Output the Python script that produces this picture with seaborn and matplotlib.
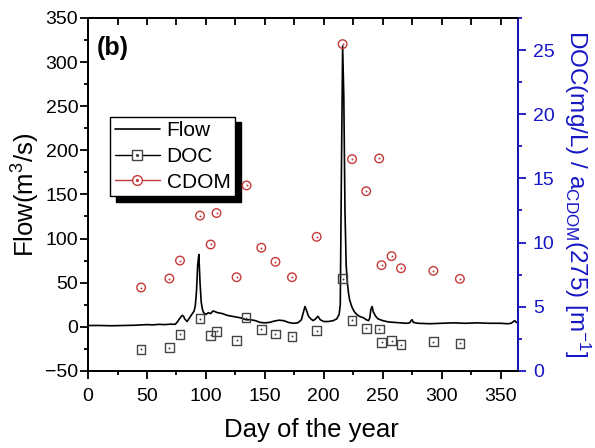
import matplotlib
matplotlib.use("Agg")
import matplotlib.pyplot as plt
from matplotlib.lines import Line2D
from matplotlib.legend_handler import HandlerTuple
from matplotlib.ticker import MultipleLocator
import seaborn as sns
import pandas as pd

# Daily discharge (m3/s)
flow_day = [1, 10, 20, 30, 40, 50, 55, 60, 65, 70, 74, 76, 78, 80, 81, 82, 84, 86, 88, 90,
            91, 92, 93, 94, 95, 96, 97, 98, 100, 102, 104, 106, 108, 110, 114, 118, 122, 126,
            130, 134, 138, 142, 146, 150, 154, 158, 162, 166, 170, 174, 178, 181, 183, 184,
            185, 187, 189, 191, 193, 195, 197, 200, 204, 208, 211, 213, 214, 215, 216, 217,
            218, 219, 220, 221, 222, 224, 226, 228, 230, 232, 234, 236, 238, 239, 240, 241,
            242, 244, 246, 250, 255, 260, 265, 270, 273, 274, 275, 276, 280, 290, 300, 310,
            320, 330, 340, 350, 356, 359, 361, 362, 363, 365]
flow_val = [1.5, 1.5, 1.2, 1.5, 1.8, 2.5, 2.2, 2.8, 2.5, 3.0, 2.8, 6, 10, 13, 12, 9, 6, 10, 14, 18,
            24, 40, 70, 82, 50, 28, 20, 16, 14, 16, 15, 18, 17, 16, 15, 13, 12, 11,
            10, 8, 8, 7, 5, 4.5, 5, 6.5, 7.5, 7, 5, 4, 4.5, 8, 18, 23,
            20, 12, 9, 7, 9, 12, 8, 6, 6, 7, 9, 14, 25, 180, 318, 260,
            130, 70, 50, 38, 30, 22, 17, 14, 12, 11, 10, 8, 7, 10, 20, 23,
            17, 12, 9, 7, 5.5, 5, 4.5, 4, 4.5, 7, 8, 5, 4, 3.5, 4, 4.5,
            4, 4.5, 4, 4, 3.5, 4, 6, 7, 5.5, 4]

# Sampling days with DOC (mg/L) and a_CDOM(275) (m-1)
sample_day = [45, 69, 78, 95, 104, 109, 126, 134, 147, 159, 173, 194, 216, 224, 236, 247,
              249, 257.5, 265.5, 293, 315.5]
doc_val = [1.7, 1.82, 2.86, 4.08, 2.78, 3.09, 2.39, 4.16, 3.25, 2.88, 2.7, 3.12, 7.2, 3.93,
           3.33, 3.27, 2.24, 2.37, 2.03, 2.29, 2.14]
cdom_day = [45, 69, 78, 95, 104, 109, 126, 134.5, 147, 159, 173, 194, 216, 224, 236, 247,
            249, 257.5, 265.5, 293, 315.5]
cdom_val = [6.5, 7.2, 8.6, 12.1, 9.85, 12.3, 7.3, 14.45, 9.6, 8.5, 7.3, 10.45, 25.46, 16.5,
            14.0, 16.55, 8.24, 8.94, 8.0, 7.8, 7.17]

flow_df = pd.DataFrame({"day": flow_day, "flow": flow_val})
doc_df = pd.DataFrame({"day": sample_day, "doc": doc_val})
cdom_df = pd.DataFrame({"day": cdom_day, "cdom": cdom_val})

sns.set_style("ticks")
plt.rcParams["font.family"] = ["Liberation Sans", "DejaVu Sans"]
plt.rcParams["mathtext.fontset"] = "custom"
plt.rcParams["mathtext.rm"] = "Liberation Sans"
plt.rcParams["mathtext.it"] = "Liberation Sans"
for key in ("text.color", "axes.labelcolor", "xtick.color", "ytick.color",
            "axes.edgecolor"):
    plt.rcParams[key] = "black"

BLUE = "#1616c4"
RED = "#c43a3a"
GREY = "#444444"

fig = plt.figure(figsize=(5.95, 4.48), dpi=100)
ax = fig.add_axes([0.148, 0.172, 0.723, 0.788])
ax2 = ax.twinx()

sns.lineplot(data=flow_df, x="day", y="flow", ax=ax, color="black", lw=1.2)

sns.scatterplot(data=doc_df, x="day", y="doc", ax=ax2, marker="s", s=40,
                facecolor="none", edgecolor=GREY, linewidth=1.0)
sns.scatterplot(data=doc_df, x="day", y="doc", ax=ax2, marker="o", s=2,
                color=GREY, linewidth=0)
sns.scatterplot(data=cdom_df, x="day", y="cdom", ax=ax2, marker="o", s=38,
                facecolor="none", edgecolor=RED, linewidth=1.0)
sns.scatterplot(data=cdom_df, x="day", y="cdom", ax=ax2, marker="o", s=2,
                color=RED, linewidth=0)

ax.set_xlim(0, 365)
ax.set_ylim(-50, 350)
ax2.set_ylim(0, 27.5)

ax.xaxis.set_major_locator(MultipleLocator(50))
ax.xaxis.set_minor_locator(MultipleLocator(25))
ax.yaxis.set_major_locator(MultipleLocator(50))
ax.yaxis.set_minor_locator(MultipleLocator(25))
ax2.yaxis.set_major_locator(MultipleLocator(5))
ax2.yaxis.set_minor_locator(MultipleLocator(2.5))

for a in (ax, ax2):
    for s in a.spines.values():
        s.set_linewidth(1.3)
        s.set_color("black")
ax2.spines["right"].set_color(BLUE)

ax.tick_params(axis="both", which="major", labelsize=14, length=5.5, width=1.3,
               direction="out", colors="black")
ax.tick_params(axis="both", which="minor", length=3, width=1.3, direction="out")
ax.tick_params(axis="x", which="both", pad=7)
ax.tick_params(axis="y", which="both", pad=1.5)
ax2.tick_params(axis="y", which="major", labelsize=14, length=5.5, width=1.3,
                direction="out", colors=BLUE, pad=5)
ax2.tick_params(axis="y", which="minor", length=3, width=1.3, direction="out",
                colors=BLUE)

# inward ticks along the top edge every 25 days
top = ax.secondary_xaxis("top")
top.xaxis.set_major_locator(MultipleLocator(25))
top.tick_params(direction="in", length=5, width=1.3, labeltop=False, colors="black")
top.set_xticklabels([])
top.spines["top"].set_linewidth(1.3)
top.spines["top"].set_color("black")
ax.tick_params(axis="x", which="both", top=False)

ax.set_xlabel("Day of the year", fontsize=18.5, labelpad=9, x=0.52)
ax.set_ylabel(r"Flow(m$^{3}$/s)", fontsize=18.5, labelpad=2)
ax2.set_ylabel(r"DOC(mg/L) / a$_{\mathregular{CDOM}}$(275) [m$^{\mathregular{-1}}$]",
               fontsize=17.5, color=BLUE, rotation=270, labelpad=27)

ax.text(0.02, 0.95, "(b)", transform=ax.transAxes, fontsize=18,
        fontweight="bold", va="top", ha="left")

h_flow = Line2D([], [], color="black", lw=1.2)
h_doc = (Line2D([], [], color="black", lw=1.0, marker="s", ms=6.5,
                mfc="white", mec=GREY, mew=1.0),
         Line2D([], [], ls="none", marker="o", ms=1.3, color=GREY))
h_cdom = (Line2D([], [], color=RED, lw=1.0, marker="o", ms=7,
                 mfc="white", mec=RED, mew=1.0),
          Line2D([], [], ls="none", marker="o", ms=1.3, color=RED))
leg = ax.legend([h_flow, h_doc, h_cdom], ["Flow", "DOC", "CDOM"],
                handler_map={tuple: HandlerTuple(ndivide=1)},
                loc="upper left", bbox_to_anchor=(0.051, 0.72), borderaxespad=0,
                fontsize=15, frameon=True, fancybox=False,
                shadow={"color": "black", "alpha": 1.0, "ox": 4, "oy": -4},
                handlelength=2.2, handletextpad=0.3, labelspacing=0.32,
                borderpad=0.22)
leg.get_frame().set_edgecolor("black")
leg.get_frame().set_linewidth(1.0)
leg.get_frame().set_alpha(1.0)

fig.savefig("out.png", dpi=100)
